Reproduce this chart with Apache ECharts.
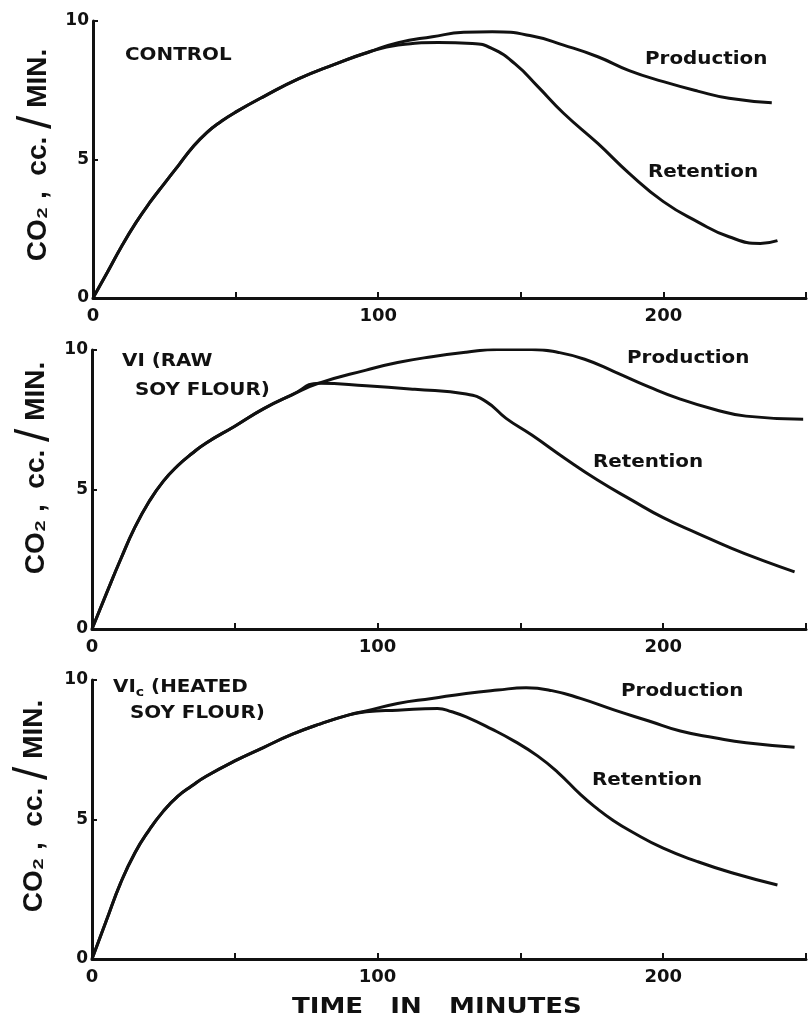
<!doctype html>
<html>
<head>
<meta charset="utf-8">
<title>CO2 production and retention</title>
<style>
html, body { margin: 0; padding: 0; background: #fff; }
#main { width: 809px; height: 1020px; }
</style>
</head>
<body>
<div id="main"></div>
<script src="https://cdn.jsdelivr.net/npm/echarts@6/dist/echarts.min.js"></script>
<script>
// ---- data (time in minutes, CO2 cc./min) ----
// panel 1: control
var ctrlProdTime = [0, 5, 10, 15, 20, 25, 30, 35, 40, 45, 50, 60, 72, 84, 97, 107, 119, 130, 140, 154, 165, 177, 188, 200, 212, 223, 238];
var ctrlProdVal  = [0, 0.92, 1.86, 2.71, 3.46, 4.13, 4.79, 5.45, 5.98, 6.38, 6.71, 7.28, 7.91, 8.41, 8.89, 9.22, 9.43, 9.59, 9.61, 9.46, 9.13, 8.71, 8.21, 7.81, 7.47, 7.21, 7.05];
var ctrlRetTime  = [0, 5, 10, 15, 20, 25, 30, 35, 40, 45, 50, 60, 72, 84, 97, 107, 121, 133, 140, 148, 156, 165, 177, 188, 200, 212, 223, 234, 240];
var ctrlRetVal   = [0, 0.92, 1.86, 2.71, 3.46, 4.13, 4.79, 5.45, 5.98, 6.38, 6.71, 7.28, 7.91, 8.41, 8.89, 9.13, 9.22, 9.19, 9.0, 8.45, 7.63, 6.67, 5.58, 4.5, 3.48, 2.75, 2.21, 1.97, 2.07];

// panel 2: VI (raw soy flour)
var rawProdTime = [0, 5, 10, 15, 20, 25, 30, 35, 40, 50, 60, 70, 79.5, 96, 107, 119, 131, 142, 154, 163, 172.5, 183, 195, 206, 218, 229, 249];
var rawProdVal  = [0, 1.26, 2.49, 3.64, 4.57, 5.3, 5.85, 6.29, 6.67, 7.27, 7.89, 8.39, 8.81, 9.28, 9.55, 9.76, 9.92, 10.02, 10.02, 9.92, 9.67, 9.22, 8.68, 8.24, 7.87, 7.63, 7.52];
var rawRetTime  = [0, 5, 10, 15, 20, 25, 30, 35, 40, 50, 60, 70, 79.5, 96, 113, 131, 138, 145, 154, 165.5, 177, 189, 200, 212, 224, 235, 246];
var rawRetVal   = [0, 1.26, 2.49, 3.64, 4.57, 5.3, 5.85, 6.29, 6.67, 7.27, 7.89, 8.39, 8.81, 8.72, 8.59, 8.42, 8.15, 7.55, 6.95, 6.12, 5.34, 4.62, 3.99, 3.43, 2.89, 2.45, 2.05];

// panel 3: VIc (heated soy flour)
var heatProdTime = [0, 5, 10, 15, 20, 25, 30, 35, 40, 50, 60, 70, 80, 90, 96, 107, 119, 131, 142, 152, 161, 171, 183, 195, 206, 218, 229, 246];
var heatProdVal  = [0, 1.37, 2.72, 3.8, 4.62, 5.3, 5.83, 6.21, 6.55, 7.1, 7.58, 8.05, 8.43, 8.75, 8.89, 9.16, 9.34, 9.52, 9.64, 9.72, 9.62, 9.34, 8.92, 8.53, 8.17, 7.93, 7.75, 7.59];
var heatRetTime  = [0, 5, 10, 15, 20, 25, 30, 35, 40, 50, 60, 70, 80, 90, 96, 107, 121, 126, 131, 140, 148, 156, 163, 171, 177, 182, 189, 200, 212, 224, 240];
var heatRetVal   = [0, 1.37, 2.72, 3.8, 4.62, 5.3, 5.83, 6.21, 6.55, 7.1, 7.58, 8.05, 8.43, 8.75, 8.86, 8.92, 8.98, 8.86, 8.68, 8.24, 7.8, 7.28, 6.7, 5.9, 5.38, 5.0, 4.56, 3.97, 3.49, 3.09, 2.65];

var xLabelled = [0, 100, 200];   // x ticks every 50, only these carry a number
var yLabelled = [0, 5, 10];

var panelNames = ['CONTROL', 'VI (RAW', 'VIc (HEATED'];

function pairs(t, v) {
    return t.map(function (x, i) { return [x, v[i]]; });
}

var ink = '#111';
var grids = [
    { left: 93, top: 21, width: 717, height: 277 },
    { left: 92, top: 350, width: 717, height: 279 },
    { left: 92, top: 680, width: 717, height: 279 }
];

var xAxes = [], yAxes = [];
grids.forEach(function (g, i) {
    xAxes.push({
        type: 'value', gridIndex: i, min: 0, max: 250, interval: 50,
        axisLine: { lineStyle: { color: ink, width: 3 } },
        axisTick: { inside: true, length: 6, lineStyle: { color: ink, width: 2 } },
        splitLine: { show: false },
        axisLabel: {
            margin: 9, color: ink, fontSize: 18, fontWeight: 'bold', fontFamily: 'DejaVu Sans',
            formatter: function (v) { return xLabelled.indexOf(v) >= 0 ? String(v) : ''; }
        }
    });
    yAxes.push({
        type: 'value', gridIndex: i, min: 0, max: 10, interval: 5,
        axisLine: { show: true, lineStyle: { color: ink, width: 3 } },
        axisTick: { show: true, inside: true, length: 5, lineStyle: { color: ink, width: 2 } },
        splitLine: { show: false },
        axisLabel: {
            margin: 4, color: ink, fontSize: 17, fontWeight: 'bold', fontFamily: 'DejaVu Sans',
            formatter: function (v) { return yLabelled.indexOf(v) >= 0 ? String(v) : ''; }
        }
    });
});

function curve(name, idx, t, v) {
    return {
        name: name, type: 'line', xAxisIndex: idx, yAxisIndex: idx,
        data: pairs(t, v), smooth: 0.5, showSymbol: false, silent: true,
        lineStyle: { color: ink, width: 3 }
    };
}

var series = [
    curve('Production', 0, ctrlProdTime, ctrlProdVal),
    curve('Retention', 0, ctrlRetTime, ctrlRetVal),
    curve('Production', 1, rawProdTime, rawProdVal),
    curve('Retention', 1, rawRetTime, rawRetVal),
    curve('Production', 2, heatProdTime, heatProdVal),
    curve('Retention', 2, heatRetTime, heatRetVal)
];

// text placed on the page
function note(x, y, text, sx) {
    return {
        type: 'text', x: x, y: y, scaleX: sx || 1.17, silent: true,
        style: {
            text: text, fill: ink, fontSize: 17, fontWeight: 'bold', fontFamily: 'DejaVu Sans',
            align: 'left', verticalAlign: 'middle',
            rich: {
                a: { fontSize: 17, fontWeight: 'bold', fontFamily: 'DejaVu Sans', fill: ink, lineHeight: 20, verticalAlign: 'middle' },
                s: { fontSize: 12, fontWeight: 'bold', fontFamily: 'DejaVu Sans', fill: ink, lineHeight: 12, padding: [10, 0, 0, 0], verticalAlign: 'middle' }
            }
        }
    };
}

function yTitle(x, y) {
    return {
        type: 'text', x: x, y: y, rotation: Math.PI / 2, silent: true,
        style: {
            text: '{a|CO₂ ,  cc. }{b|/}{a| MIN.}',
            align: 'center', verticalAlign: 'middle',
            rich: {
                a: { fontSize: 28, fontWeight: 'bold', fontFamily: 'Liberation Sans', fill: ink, verticalAlign: 'middle' },
                b: { fontSize: 48, fontFamily: 'Liberation Sans', fill: ink, verticalAlign: 'middle' }
            }
        }
    };
}

var graphics = [
    yTitle(38, 155), yTitle(36, 468), yTitle(34, 806),
    note(125, 56, panelNames[0]),
    note(645, 60, 'Production'),
    note(648, 173, 'Retention'),
    note(122, 362, panelNames[1]),
    note(135, 391, 'SOY FLOUR)'),
    note(627, 359, 'Production'),
    note(593, 463, 'Retention'),
    note(113, 688, '{a|VI}{s|c}{a| (HEATED}'),
    note(130, 714, 'SOY FLOUR)'),
    note(621, 692, 'Production'),
    note(592, 781, 'Retention'),
    {
        type: 'text', x: 292, y: 1008, scaleX: 1.24, silent: true,
        style: {
            text: 'TIME   IN   MINUTES', fill: ink, fontSize: 21, fontWeight: 'bold', fontFamily: 'DejaVu Sans',
            align: 'left', verticalAlign: 'middle'
        }
    }
];

var chart = echarts.init(document.getElementById('main'), null, { renderer: 'canvas' });
chart.setOption({
    backgroundColor: '#fff',
    animation: false,
    grid: grids,
    xAxis: xAxes,
    yAxis: yAxes,
    series: series,
    graphic: graphics
});
</script>
</body>
</html>
